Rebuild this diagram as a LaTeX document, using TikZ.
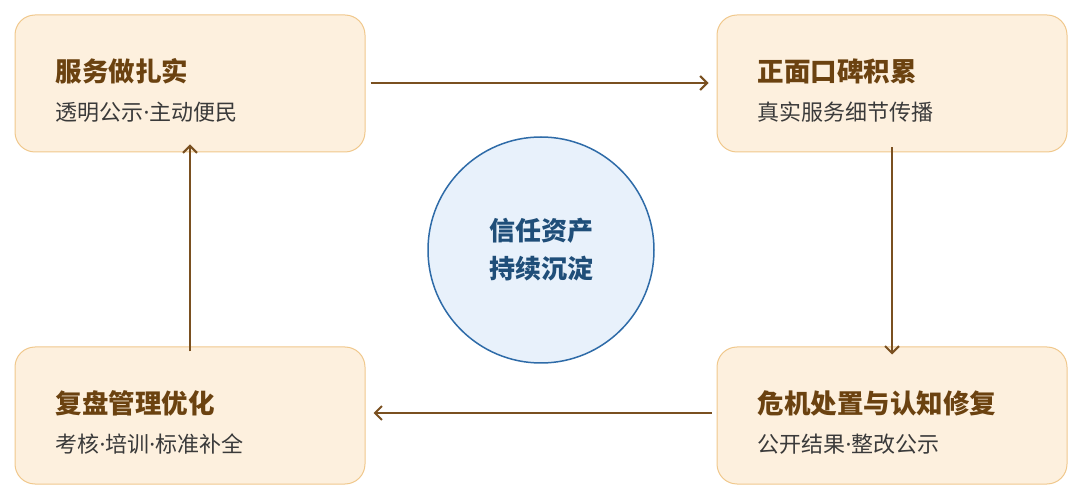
\documentclass[tikz,border=0pt]{standalone}
\usepackage{fontspec}
\newfontfamily\cjk{Noto Sans CJK SC}
\newfontfamily\lat{Noto Sans}
\newcommand{\md}{{\lat\bfseries·}}
\usetikzlibrary{arrows.meta}
\definecolor{boxfill}{HTML}{FDF0DE}
\definecolor{boxline}{HTML}{F0C88C}
\definecolor{ttl}{HTML}{6B4210}
\definecolor{sub}{HTML}{3A3A3A}
\definecolor{arr}{HTML}{7A5020}
\definecolor{cfill}{HTML}{E8F1FB}
\definecolor{cline}{HTML}{2E6BA8}
\definecolor{ctext}{HTML}{1F4E79}
\begin{document}
\begin{tikzpicture}[x=1pt,y=-1pt,
 box/.style={draw=boxline,fill=boxfill,line width=1pt,rounded corners=20pt,minimum width=350pt,minimum height=137pt},
 ttl/.style={anchor=west,text=ttl,font=\cjk\bfseries\fontsize{26.5}{30}\selectfont},
 sub/.style={anchor=west,text=sub,font=\cjk\fontsize{22}{26}\selectfont},
 ar/.style={draw=arr,line width=2pt,-{Straight Barb[length=7pt,width=14pt,line width=2pt]}}]
\useasboundingbox (0,0) rectangle (1080,494);
\node[box] (A) at (190,83.5) {};
\node[box] (B) at (892,83.5) {};
\node[box] (C) at (892,415.5) {};
\node[box] (D) at (190,415.5) {};
\node[ttl] (At) at (52,71) {服务做扎实};
\node[sub] (As) at (52,112) {透明公示\md 主动便民};
\node[ttl] (Bt) at (754,71) {正面口碑积累};
\node[sub] (Bs) at (754,112) {真实服务细节传播};
\node[ttl] (Ct) at (754,403) {危机处置与认知修复};
\node[sub] (Cs) at (754,444) {公开结果\md 整改公示};
\node[ttl] (Dt) at (52,403) {复盘管理优化};
\node[sub] (Ds) at (52,444) {考核\md 培训\md 标准补全};
\node[circle,draw=cline,fill=cfill,line width=1.5pt,minimum size=226pt,align=center,text=ctext,font=\cjk\bfseries\fontsize{26}{38}\selectfont] (M) at (541,250) {信任资产\\持续沉淀};
\draw[ar] ([xshift=5pt]A.east |- 0,83) -- ([xshift=-8pt]B.west |- 0,83);
\draw[ar] ([yshift=5pt]B.south -| 892,0) -- ([yshift=-8pt]C.north);
\draw[ar] ([xshift=-5pt]C.west |- 0,413) -- ([xshift=8pt]D.east |- 0,413);
\draw[ar] ([yshift=-5pt]D.north) -- ([yshift=8pt]A.south);
\end{tikzpicture}
\end{document}
